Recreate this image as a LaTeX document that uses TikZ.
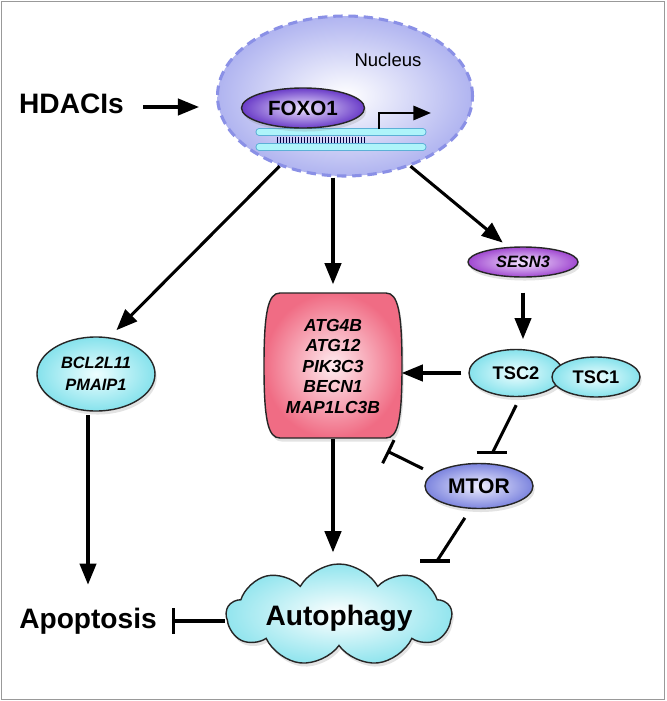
\documentclass[tikz,border=0pt]{standalone}
\usepackage{fontspec}
\setmainfont{Liberation Sans}
\usetikzlibrary{shapes.geometric,shapes.symbols,arrows.meta,shadows,calc}

\definecolor{nucfill}{HTML}{B0B4F0}
\definecolor{nucline}{HTML}{8A90E6}
\definecolor{foxpurple}{HTML}{6A3CC8}
\definecolor{foxlight}{HTML}{EEE6FF}
\definecolor{sesnpurple}{HTML}{A048D0}
\definecolor{sesnlight}{HTML}{F4E4FF}
\definecolor{tsccyan}{HTML}{86E2EC}
\definecolor{tsclight}{HTML}{EEFEFF}
\definecolor{mtorblue}{HTML}{7C84DE}
\definecolor{mtorlight}{HTML}{F0F0FF}
\definecolor{atgpink}{HTML}{F06C84}
\definecolor{atglight}{HTML}{FFECF0}
\definecolor{dnacyan}{HTML}{AEF4FA}
\definecolor{dnaline}{HTML}{5CB0D6}

\tikzset{
  prot/.style={ellipse, draw=black!85, line width=1.2pt, inner sep=0pt,
    drop shadow={shadow xshift=1.5pt, shadow yshift=-3pt, opacity=.22}},
  cyanprot/.style={prot, inner color=tsclight, outer color=tsccyan},
  label/.style={inner sep=0pt, font=\bfseries\fontsize{24}{28}\selectfont},
  act/.style={-{Triangle[length=18pt,width=14pt]}, line width=2.6pt},
  inh/.style={-{Bar[width=22pt]}, line width=2.6pt},
  blunt/.style={line width=2.6pt}
}

\begin{document}
\begin{tikzpicture}[x=0.03cm, y=-0.03cm]
\useasboundingbox (0,0) rectangle (666,701);
\fill[white] (0,0) rectangle (666,701);
\draw[gray!80, line width=1.6pt] (1.5,1.5) rectangle (664.5,699.5);

\node[ellipse, minimum width=7.65cm, minimum height=4.8cm, inner color=white, outer color=nucfill,
  draw=nucline, line width=2.6pt, dash pattern=on 8pt off 5pt] (nucleus) at (345,96) {};
\node[inner sep=0pt, font=\fontsize{15.8}{18}\selectfont] (nuclabel) at (388,60) {Nucleus};

\draw[dnaline, line width=6pt, line cap=round] (259,132) -- (423,132) (259,147) -- (423,147);
\draw[dnacyan, line width=4.3pt, line cap=round] (259,132) -- (423,132) (259,147) -- (423,147);
\foreach \x in {277,280,...,365}
  \draw[black!75!blue, line width=0.8pt] (\x,137) -- (\x,143);
\coordinate (tss) at (379,129);
\coordinate (tssend) at (431,113);
\draw[-{Triangle[length=15pt,width=12pt]}, line width=2.4pt] (tss) |- (tssend);

\node[prot, minimum width=3.69cm, minimum height=1.2cm, inner color=foxlight, outer color=foxpurple,
  font=\bfseries\fontsize{17.6}{20}\selectfont] (foxo) at (303,108) {FOXO1};

\node[label] (hdac) at (71.5,104) {HDACIs};
\coordinate (hdacend) at (199,107);
\draw[act, shorten <=0.57cm] (hdac.east |- hdacend) -- (hdacend);

\node[prot, minimum width=3.3cm, minimum height=0.9cm, inner color=sesnlight, outer color=sesnpurple,
  font=\bfseries\itshape\fontsize{14}{16}\selectfont] (sesn) at (523,262) {SESN3};
\node[cyanprot, minimum width=2.82cm, minimum height=1.41cm,
  font=\bfseries\fontsize{15.6}{18}\selectfont] (tsc2) at (516,373) {TSC2};
\node[cyanprot, minimum width=2.64cm, minimum height=1.2cm,
  font=\bfseries\fontsize{15.6}{18}\selectfont] (tsc1) at (596,377) {TSC1};
\node[prot, minimum width=3.24cm, minimum height=1.35cm, inner color=mtorlight, outer color=mtorblue,
  font=\bfseries\fontsize{18}{20}\selectfont] (mtor) at (479,486) {MTOR};
\node[cyanprot, minimum width=3.54cm, minimum height=2.22cm, align=center,
  font=\bfseries\itshape\fontsize{14}{18.8}\selectfont] (bcl) at (96,374) {BCL2L11\\PMAIP1};

\path[draw=black!85, line width=1.2pt, inner color=atglight, outer color=atgpink,
  drop shadow={shadow xshift=1.5pt, shadow yshift=-3pt, opacity=.22}]
  (280,293) -- (386,293) .. controls (398,293) and (402,312) .. (402,366)
  .. controls (402,420) and (398,438) .. (386,438) -- (280,438)
  .. controls (268,438) and (264,420) .. (264,366)
  .. controls (264,312) and (268,293) .. (280,293) -- cycle;
\node[minimum width=4.11cm, minimum height=4.35cm, align=center,
  font=\bfseries\itshape\fontsize{14.9}{17.5}\selectfont] (atg) at (333,366)
  {ATG4B\\ATG12\\PIK3C3\\BECN1\\MAP1LC3B};

\node[cloud, cloud puffs=9, cloud puff arc=120, cloud ignores aspect, minimum width=6.75cm,
  minimum height=3.06cm, draw=black!85, line width=1.2pt, inner color=white, outer color=tsccyan!90,
  drop shadow={shadow xshift=1.5pt, shadow yshift=-3pt, opacity=.22}, text depth=0pt,
  font=\bfseries\fontsize{24}{28}\selectfont] (autophagy) at (339,615) {Autophagy};
\node[label] (apop) at (88,621) {Apoptosis};

\draw[act, shorten >=0.3cm] (nucleus.227) -- (bcl.70);
\draw[act, shorten >=0.27cm] (nucleus.south -| atg.north) -- (atg.north);
\draw[act, shorten >=0.2cm] (nucleus.313) -- (sesn.135);
\draw[act, shorten <=0.45cm, shorten >=0.29cm] (sesn.south) -- (sesn.south |- tsc2.north);
\draw[act, shorten <=0.21cm] (tsc2.west) -- (atg.east |- tsc2.west);

\coordinate (tmbar) at ($(mtor.70)!0.36cm!(tsc2.-80)$);
\draw[blunt, shorten <=0.27cm] (tsc2.-80) -- (tmbar);
\draw[blunt] ([xshift=-0.48cm]tmbar) -- ([xshift=0.42cm]tmbar);

\coordinate (mabar) at (387,451);
\draw[inh, shorten <=0.33cm] (mtor.165) -- (mabar);

\coordinate (mpbar) at (437,561);
\draw[blunt, shorten <=0.32cm] (mtor.-110) -- (mpbar);
\draw[blunt] ([xshift=-0.5cm]mpbar) -- ([xshift=0.4cm]mpbar);

\draw[act, shorten >=0.33cm] (atg.south) -- (atg.south |- autophagy.north);
\draw[inh, shorten >=0.45cm] (autophagy.west |- apop.east) -- (apop.east);
\draw[act, shorten <=0.1cm, shorten >=0.69cm] (apop.north |- bcl.south) -- (apop.north);
\end{tikzpicture}
\end{document}
